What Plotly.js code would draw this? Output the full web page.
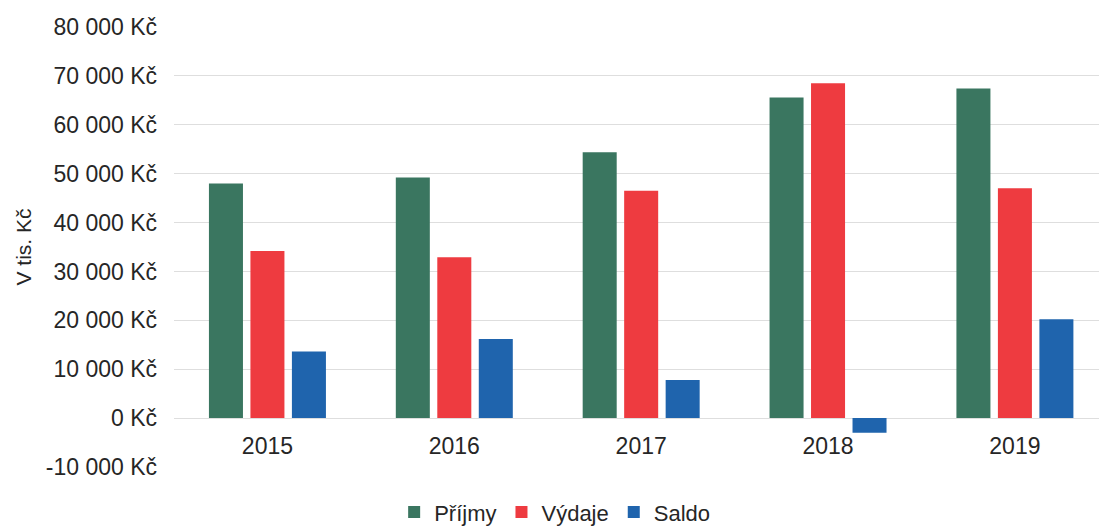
<!DOCTYPE html>
<html>
<head>
<meta charset="utf-8">
<script src="https://cdn.plot.ly/plotly-3.0.1.min.js"></script>
<style>html,body{margin:0;padding:0;background:#fff;}#chart{width:1099px;height:527px;}</style>
</head>
<body>
<div id="chart"></div>
<script>
const years = ['2015', '2016', '2017', '2018', '2019'];
const prijmy = [48000, 49200, 54400, 65600, 67400];
const vydaje = [34200, 32900, 46500, 68500, 47000];
const saldo = [13600, 16200, 7800, -3000, 20200];
const yTickVals = [-10000, 0, 10000, 20000, 30000, 40000, 50000, 60000, 70000, 80000];
const yTickText = ['-10 000 Kč', '0 Kč', '10 000 Kč', '20 000 Kč', '30 000 Kč', '40 000 Kč', '50 000 Kč', '60 000 Kč', '70 000 Kč', '80 000 Kč'];

const fam = 'Liberation Sans, Arial, sans-serif';
const txt = '#262626';

const traces = [
  {type: 'bar', name: 'Příjmy', x: years, y: prijmy, marker: {color: '#3a7660'}},
  {type: 'bar', name: 'Výdaje', x: years, y: vydaje, marker: {color: '#ee3b40'}},
  {type: 'bar', name: 'Saldo', x: years, y: saldo, marker: {color: '#1f64ad'}}
];

const layout = {
  width: 1099, height: 527,
  margin: {l: 174, r: 0, t: 27, b: 60, pad: 0},
  paper_bgcolor: '#ffffff', plot_bgcolor: '#ffffff',
  font: {family: fam, size: 23, color: txt},
  barmode: 'group',
  bargap: 0.334,
  bargroupgap: 0.18,
  showlegend: true,
  legend: {
    orientation: 'h', x: 0.238, xanchor: 'left',
    yref: 'container', y: 0.028, yanchor: 'middle',
    font: {family: fam, size: 22, color: txt},
    itemwidth: 30, traceorder: 'normal'
  },
  xaxis: {
    type: 'category',
    range: [-0.5, 4.45],
    anchor: 'free', position: 1/9,
    showgrid: false, showline: false, zeroline: false,
    ticks: '', ticklabelstandoff: 12,
    tickfont: {family: fam, size: 23, color: txt}
  },
  yaxis: {
    range: [-10000, 80000],
    tickvals: yTickVals, ticktext: yTickText,
    showgrid: true, gridcolor: '#dedede', gridwidth: 1,
    zeroline: false, showline: false,
    ticks: '', ticklabelstandoff: 16,
    tickfont: {family: fam, size: 23, color: txt},
    title: {text: 'V tis. Kč', standoff: 8, font: {family: fam, size: 21, color: txt}},
    automargin: false
  }
};

Plotly.newPlot('chart', traces, layout, {displayModeBar: false, staticPlot: true});
</script>
</body>
</html>
